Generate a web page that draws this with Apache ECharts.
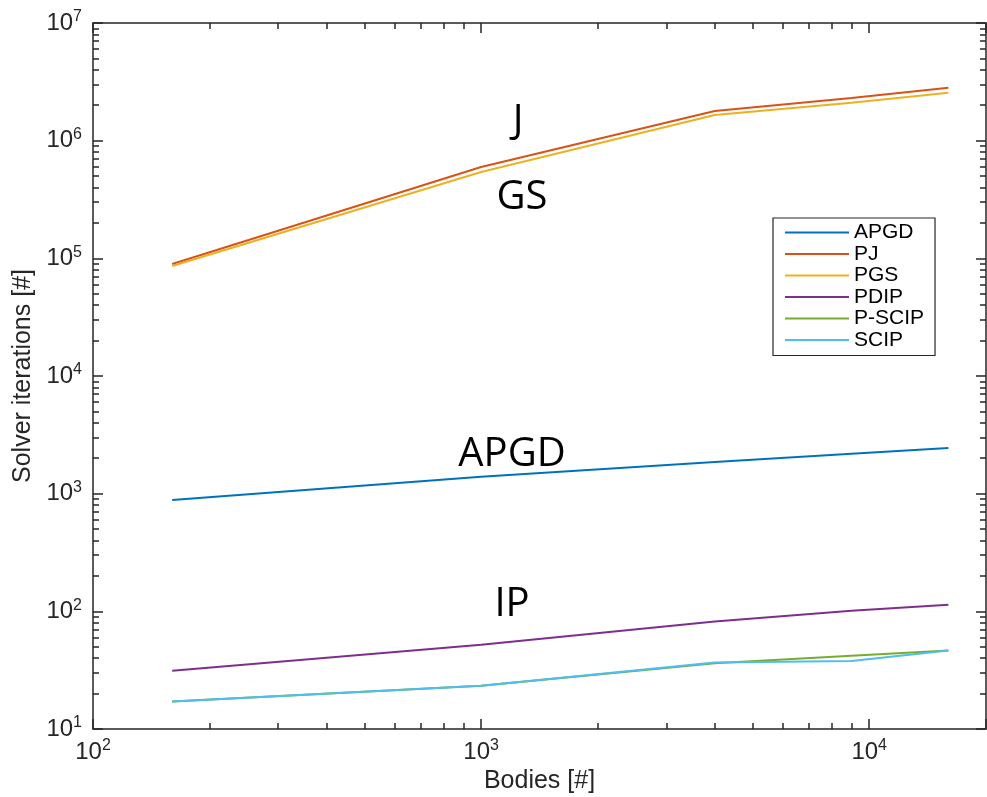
<!DOCTYPE html>
<html>
<head>
<meta charset="utf-8">
<script src="https://cdn.jsdelivr.net/npm/echarts@6/dist/echarts.min.js"></script>
<style>
html,body{margin:0;padding:0;background:#fff;}
#main{width:987px;height:797px;}
</style>
</head>
<body>
<div id="main"></div>
<script>
// bodies count (x)
var bodies = [160, 1000, 4000, 9000, 16000];
// solver iterations per method
var apgd  = [885, 1390, 1860, 2180, 2440];
var pj    = [89500, 598000, 1790000, 2300000, 2820000];
var pgs   = [86000, 542000, 1650000, 2100000, 2560000];
var pdip  = [31.2, 51.9, 81.9, 101, 114];
var pscip = [17.1, 23.3, 36.2, 41.9, 46.4];
var scip  = [17.1, 23.3, 36.7, 37.9, 46.4];

var names  = ['APGD', 'PJ', 'PGS', 'PDIP', 'P-SCIP', 'SCIP'];
var colors = ['#0072BD', '#D95319', '#EDB120', '#7E2F8E', '#77AC30', '#4DBEEE'];
var allData = [apgd, pj, pgs, pdip, pscip, scip];

function pairs(ys) {
    return bodies.map(function (x, i) { return [x, ys[i]]; });
}

var chart = echarts.init(document.getElementById('main'));

var axisCol = '#262626';
var font = '"Liberation Sans", Arial, Helvetica, sans-serif';

function powLabel(v) {
    var e = Math.round(Math.log(v) / Math.LN10);
    return '{b|10}{s|' + e + '}';
}
var richLab = {
    b: {fontSize: 24, fontFamily: font, color: axisCol, lineHeight: 28},
    s: {fontSize: 16, fontFamily: font, color: axisCol, lineHeight: 10, verticalAlign: 'top'}
};

function logAxis(opt) {
    var base = {
        type: 'log',
        logBase: 10,
        axisLine: {show: true, onZero: false, lineStyle: {color: axisCol, width: 1.5}},
        axisTick: {show: true, inside: true, length: 10, lineStyle: {color: axisCol, width: 1.5}},
        minorTick: {show: true, splitNumber: 9, length: 6, lineStyle: {color: axisCol, width: 1.5}},
        splitLine: {show: false},
        minorSplitLine: {show: false}
    };
    for (var k in opt) base[k] = opt[k];
    return base;
}

var series = names.map(function (n, i) {
    return {
        name: n,
        type: 'line',
        data: pairs(allData[i]),
        showSymbol: false,
        symbol: 'none',
        lineStyle: {color: colors[i], width: 2},
        itemStyle: {color: colors[i]},
        animation: false
    };
});

var annot = [
    {text: 'J',    x: 518, y: 122},
    {text: 'GS',   x: 522, y: 198},
    {text: 'APGD', x: 512, y: 455},
    {text: 'IP',   x: 512, y: 605}
];

var option = {
    backgroundColor: '#fff',
    animation: false,
    grid: {left: 93, right: 1, top: 23, bottom: 68, outerBoundsMode: 'none', containLabel: false},
    xAxis: [
        logAxis({
            min: 100, max: 20000, position: 'bottom',
            name: 'Bodies [#]', nameLocation: 'middle', nameGap: 36,
            nameTextStyle: {fontSize: 25, fontFamily: font, color: axisCol},
            axisLabel: {show: true, margin: 9, showMaxLabel: false, formatter: powLabel, rich: richLab}
        }),
        logAxis({
            min: 100, max: 20000, position: 'top',
            axisLabel: {show: false}
        })
    ],
    yAxis: [
        logAxis({
            min: 10, max: 10000000, position: 'left',
            name: 'Solver iterations [#]', nameLocation: 'middle', nameGap: 55,
            nameTextStyle: {fontSize: 25, fontFamily: font, color: axisCol},
            axisLabel: {show: true, margin: 11, formatter: powLabel, rich: richLab}
        }),
        logAxis({
            min: 10, max: 10000000, position: 'right',
            axisLabel: {show: false}
        })
    ],
    legend: {
        orient: 'vertical',
        left: 773, top: 218,
        padding: [4, 11, 5, 11],
        itemWidth: 64, itemHeight: 14, itemGap: 0.5,
        borderColor: axisCol, borderWidth: 1.2,
        backgroundColor: '#fff',
        itemStyle: {opacity: 0},
        lineStyle: {width: 2},
        textStyle: {fontSize: 21, lineHeight: 21, fontFamily: font, color: '#000'},
        data: names
    },
    graphic: annot.map(function (a) {
        return {
            type: 'text', x: a.x, y: a.y,
            style: {
                text: a.text, fill: '#000',
                font: '40px "Open Sans", "Noto Sans", sans-serif',
                textAlign: 'center', textVerticalAlign: 'middle'
            }
        };
    }),
    series: series
};

chart.setOption(option);
</script>
</body>
</html>
